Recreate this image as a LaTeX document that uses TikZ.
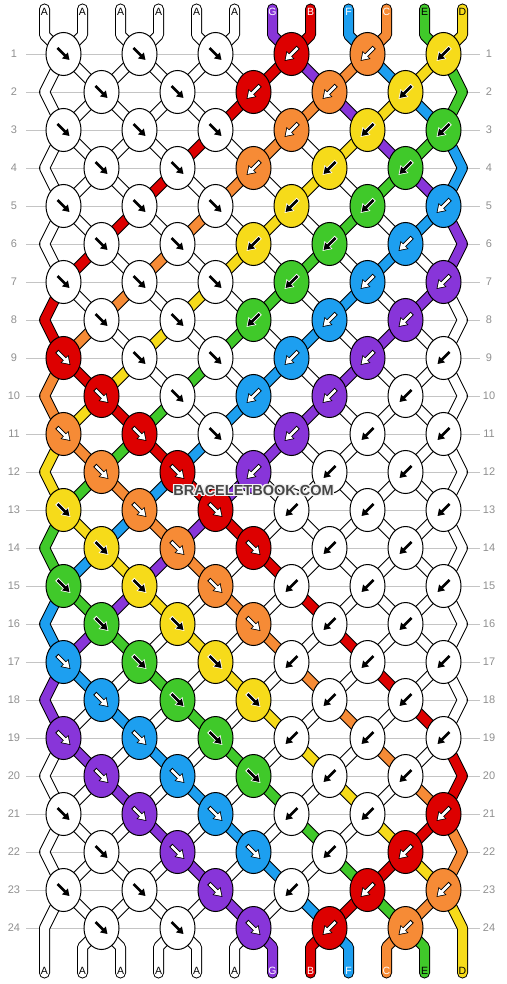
\documentclass[tikz,border=0pt]{standalone}
\usepackage{fontspec}
\setmainfont{Liberation Sans}
\usepackage{xcolor}
\usepackage{contour}
\contourlength{1.3pt}
\usetikzlibrary{arrows.meta, shapes.geometric}

% string colours (A = white)
\definecolor{strA}{HTML}{FFFFFF}
\definecolor{strB}{HTML}{DD0000}
\definecolor{strC}{HTML}{F68B36}
\definecolor{strD}{HTML}{F6DB1A}
\definecolor{strE}{HTML}{40C92A}
\definecolor{strF}{HTML}{1D9FF0}
\definecolor{strG}{HTML}{8835D9}
% arrow / letter ink and its rim
\colorlet{inkA}{black}\colorlet{rimA}{white}
\colorlet{inkB}{white}\colorlet{rimB}{black}
\colorlet{inkC}{white}\colorlet{rimC}{black}
\colorlet{inkD}{black}\colorlet{rimD}{white}
\colorlet{inkE}{black}\colorlet{rimE}{white}
\colorlet{inkF}{white}\colorlet{rimF}{black}
\colorlet{inkG}{white}\colorlet{rimG}{black}
\definecolor{lblgray}{HTML}{8F8F8F}
\definecolor{gridgray}{HTML}{C4C4C4}

\begin{document}
\begin{tikzpicture}[x=1pt, y=-1pt,
  declare function={xs(\x)=253.5+(\x-6.5)*38;
    sp(\x)=ifthenelse(\x<12,\x+1,24-\x);
    nx(\x,\y)=(xs(sp(mod(\x+\y-1,24)))+xs(sp(mod(\x+\y,24))))/2;
    ry(\y)=54+(\y-1)*38;},
  strandline/.style={draw=black, line width=1pt, double distance=9pt, line join=round, line cap=round},
  knotnode/.style={ellipse, draw=black, line width=1pt, minimum width=35pt, minimum height=43pt, inner sep=0pt},
  arrowfg/.style={line width=2.6pt, -{Triangle[length=6.5pt,width=8pt]}},
  arrowbg/.style={line width=4.4pt, shorten <=-1pt, shorten >=-1.4pt, -{Triangle[length=8.5pt,width=10.5pt]}},
  rowlbl/.style={text=lblgray, inner sep=0pt, font=\fontsize{11}{11}\selectfont},
  endlbl/.style={inner sep=0pt, font=\fontsize{10.5}{10.5}\selectfont}]
  \useasboundingbox (0,0) rectangle (506,984);

  % Row lines and numbers
  \foreach \r in {1,...,24}{
    \draw[gridgray, line width=0.8pt] (26,{ry(\r)}) -- (480,{ry(\r)});
    \node[rowlbl] (rl\r) at (14,{ry(\r)}) {\r};
    \node[rowlbl] (rr\r) at (489,{ry(\r)}) {\r};
  }

  % Strings (each one zigzags through the knots)
  \foreach \p/\c in {1/A,2/A,3/A,4/A,5/A,6/A,7/G,8/B,9/F,10/C,11/E,12/D}{
    \pgfmathtruncatemacro\u{mod(\p,2)==1 ? \p-1 : 24-\p}
    \draw[strandline, double=str\c] ({xs(\p)},9) -- ({xs(\p)},35)
      \foreach \r in {1,...,24}{ -- ({nx(\u,\r)},{ry(\r)}) }
      -- ({xs(\p)},947) -- ({xs(\p)},973);
    \node[endlbl, text=ink\c] (top\p) at ({xs(\p)},12) {\c};
    \node[endlbl, text=ink\c] (bot\p) at ({xs(\p)},971) {\c};
  }

  % Knots: row / number of forward knots / colours
  \foreach \r/\n/\ks in {1/3/{A,A,A,B,C,D}, 2/2/{A,A,B,C,D}, 3/3/{A,A,A,C,D,E}, 4/2/{A,A,C,D,E},
      5/3/{A,A,A,D,E,F}, 6/2/{A,A,D,E,F}, 7/3/{A,A,A,E,F,G}, 8/2/{A,A,E,F,G},
      9/3/{B,A,A,F,G,A}, 10/2/{B,A,F,G,A}, 11/3/{C,B,A,G,A,A}, 12/2/{C,B,G,A,A},
      13/3/{D,C,B,A,A,A}, 14/3/{D,C,B,A,A}, 15/3/{E,D,C,A,A,A}, 16/3/{E,D,C,A,A},
      17/3/{F,E,D,A,A,A}, 18/3/{F,E,D,A,A}, 19/3/{G,F,E,A,A,A}, 20/3/{G,F,E,A,A},
      21/3/{A,G,F,A,A,B}, 22/3/{A,G,F,A,B}, 23/3/{A,A,G,A,B,C}, 24/3/{A,A,G,B,C}}{
    \foreach \c [count=\k] in \ks {
      \pgfmathsetmacro\kx{mod(\r,2)==1 ? 63.5+(\k-1)*76 : 101.5+(\k-1)*76}
      \node[knotnode, fill=str\c] (k\r-\k) at (\kx,{ry(\r)}) {};
      \ifnum\k>\n
        \draw[arrowbg, draw=rim\c] (k\r-\k.center) ++(6,-6) -- ++(-12,12);
        \draw[arrowfg, draw=ink\c] (k\r-\k.center) ++(6,-6) -- ++(-12,12);
      \else
        \draw[arrowbg, draw=rim\c] (k\r-\k.center) ++(-6,-6) -- ++(12,12);
        \draw[arrowfg, draw=ink\c] (k\r-\k.center) ++(-6,-6) -- ++(12,12);
      \fi
    }
  }

  % Watermark
  \node[text=black!72, font=\bfseries\fontsize{14.5}{14.5}\selectfont] (wm) at (253.5,491) {\contour{white!90!gray}{BRACELETBOOK.COM}};
\end{tikzpicture}
\end{document}
